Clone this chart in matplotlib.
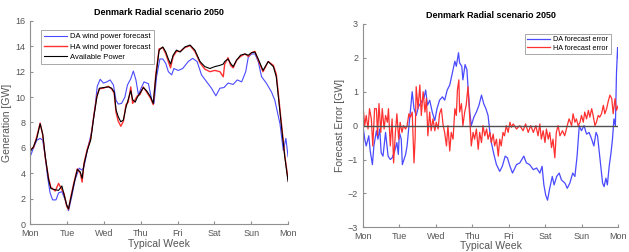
import numpy as np
import matplotlib
matplotlib.use("Agg")
import matplotlib.pyplot as plt

# Datos (x en dias desde el lunes)
dias = ["Mon", "Tue", "Wed", "Thu", "Fri", "Sat", "Sun", "Mon"]

x_disp = [0, 0.09, 0.18, 0.27, 0.34, 0.41, 0.5, 0.56, 0.68, 0.77, 0.86, 0.92, 0.99, 1.04,
          1.1, 1.19, 1.28, 1.36, 1.41, 1.46, 1.55, 1.64, 1.73, 1.81, 1.88, 1.99, 2.12, 2.21,
          2.28, 2.33, 2.39, 2.46, 2.53, 2.6, 2.66, 2.73, 2.78, 2.85, 2.91, 2.98, 3.07, 3.16,
          3.27, 3.34, 3.41, 3.5, 3.6, 3.68, 3.75, 3.81, 3.88, 3.97, 4.07, 4.2, 4.34, 4.47,
          4.61, 4.74, 4.88, 5.01, 5.15, 5.24, 5.28, 5.37, 5.44, 5.51, 5.6, 5.71, 5.83, 5.92,
          6.01, 6.1, 6.19, 6.32, 6.46, 6.6, 6.68, 6.82, 6.91, 7.0]
disponible = [5.7, 6.1, 6.75, 7.9, 7.1, 5.3, 3.5, 2.8, 2.7, 2.65, 3.0, 2.3, 1.5, 1.2,
              2.0, 3.2, 4.3, 4.1, 3.6, 4.7, 5.8, 6.6, 8.5, 10.0, 10.7, 10.75, 10.8, 10.7,
              10.4, 9.0, 8.45, 8.05, 8.2, 9.2, 9.8, 10.5, 9.8, 9.6, 10.0, 10.3, 10.75, 10.5,
              10.0, 9.5, 11.6, 13.7, 13.95, 13.55, 13.0, 12.6, 13.3, 13.7, 13.55, 13.95, 14.1, 13.7,
              12.8, 12.4, 12.25, 12.4, 12.5, 12.6, 12.8, 13.0, 12.65, 12.4, 12.9, 13.3, 13.4, 13.3,
              13.5, 13.55, 13.0, 12.1, 12.8, 12.4, 11.6, 7.7, 5.3, 3.35]
ha = [5.9, 6.0, 6.9, 7.95, 7.0, 5.2, 3.6, 2.9, 2.6, 3.2, 2.7, 2.4, 1.4, 1.15,
      2.1, 3.3, 4.35, 4.0, 3.3, 4.8, 5.9, 6.7, 8.6, 10.1, 10.65, 10.7, 10.85, 10.65,
      10.3, 8.8, 8.1, 7.7, 8.1, 9.4, 9.6, 10.8, 9.5, 9.8, 10.1, 10.2, 10.8, 10.4,
      9.9, 9.4, 11.8, 13.8, 13.9, 13.4, 12.8, 12.3, 13.2, 13.6, 13.6, 13.9, 14.05, 13.6,
      12.7, 12.2, 12.0, 12.1, 12.0, 11.6, 12.6, 13.1, 12.5, 12.3, 12.9, 13.2, 13.4, 13.2,
      13.5, 13.6, 12.9, 12.0, 12.8, 12.5, 11.8, 7.9, 5.4, 3.5]

x_da = [0, 0.09, 0.18, 0.27, 0.34, 0.41, 0.47, 0.54, 0.61, 0.7, 0.77, 0.86, 0.95, 1.04,
        1.13, 1.22, 1.33, 1.4, 1.46, 1.55, 1.67, 1.76, 1.82, 1.9, 1.99, 2.08, 2.17, 2.26,
        2.33, 2.39, 2.48, 2.57, 2.64, 2.73, 2.8, 2.87, 2.94, 3.01, 3.09, 3.21, 3.3, 3.36,
        3.43, 3.52, 3.6, 3.68, 3.75, 3.84, 3.9, 4.02, 4.14, 4.29, 4.41, 4.53, 4.65, 4.79,
        4.92, 5.04, 5.15, 5.26, 5.37, 5.51, 5.62, 5.74, 5.85, 5.92, 6.01, 6.1, 6.19, 6.28,
        6.41, 6.55, 6.64, 6.78, 6.87, 6.94, 7.0]
da = [5.3, 6.0, 6.6, 6.75, 6.6, 5.3, 3.75, 2.45, 1.9, 1.9, 2.45, 2.55, 1.9, 1.05,
      2.2, 3.5, 4.4, 4.25, 4.5, 5.8, 7.3, 9.2, 10.85, 11.4, 11.1, 11.2, 11.35, 10.95,
      9.75, 9.45, 9.5, 10.0, 10.95, 11.45, 12.05, 11.35, 10.15, 10.7, 11.2, 11.05, 9.75, 9.5,
      11.6, 13.0, 13.0, 12.65, 12.0, 11.75, 12.25, 12.1, 12.25, 12.8, 13.05, 12.8, 11.75, 11.2,
      10.7, 10.1, 10.7, 10.75, 11.1, 11.0, 11.35, 11.2, 12.0, 13.15, 13.4, 13.4, 12.8, 11.6,
      11.1, 10.4, 9.75, 7.9, 5.8, 6.75, 5.3]

x_err_da = [0, 0.05, 0.09, 0.16, 0.2, 0.26, 0.3, 0.37, 0.41, 0.46, 0.5, 0.55, 0.62, 0.69,
            0.75, 0.8, 0.87, 0.93, 0.97, 1.0, 1.05, 1.08, 1.17, 1.21, 1.28, 1.35, 1.4, 1.46,
            1.52, 1.6, 1.67, 1.72, 1.77, 1.83, 1.9, 1.97, 2.03, 2.1, 2.18, 2.24, 2.31, 2.38,
            2.45, 2.52, 2.56, 2.62, 2.65, 2.71, 2.74, 2.8, 2.85, 2.88, 2.93, 2.97, 3.04, 3.11,
            3.18, 3.25, 3.31, 3.37, 3.43, 3.48, 3.52, 3.59, 3.66, 3.75, 3.82, 3.9, 3.96, 4.03,
            4.1, 4.21, 4.3, 4.41, 4.48, 4.57, 4.67, 4.76, 4.85, 4.91, 4.96, 5.01, 5.06, 5.12,
            5.19, 5.24, 5.31, 5.38, 5.44, 5.54, 5.6, 5.67, 5.75, 5.81, 5.87, 5.93, 5.99, 6.06,
            6.13, 6.2, 6.27, 6.33, 6.39, 6.43, 6.5, 6.57, 6.61, 6.66, 6.7, 6.75, 6.8, 6.84,
            6.88, 6.92, 6.95, 6.98, 7.0]
err_da = [0, -0.4, -0.6, -0.3, -0.75, -1.15, -0.6, -0.15, -0.4, -0.1, -0.8, -0.9, -0.2, -0.9,
          -1.0, -0.95, -0.75, -0.5, -0.85, -0.2, -0.4, -1.15, -0.85, -0.6, 0.2, 1.0, 0.5, 0.3,
          0.55, 0.7, 0.8, 1.05, 0.6, 0.75, 0.4, 0.15, 0.5, 0.75, 0.85, 0.75, 1.05, 1.2,
          1.55, 1.9, 1.75, 2.15, 1.85, 1.75, 1.35, 1.8, 1.65, 1.15, 0.4, 0.0, 0.25, 0.4,
          0.6, 0.9, 0.65, 0.5, 0.3, -0.2, -0.5, -0.85, -1.15, -1.35, -1.2, -0.9, -0.95, -1.2,
          -1.4, -1.15, -1.1, -0.9, -1.1, -1.15, -1.3, -1.25, -1.4, -1.2, -1.75, -2.05, -2.2, -1.85,
          -1.5, -1.75, -1.5, -1.4, -1.6, -1.7, -1.85, -1.7, -1.4, -1.5, -0.9, 0.0, -0.15, 0.0,
          -0.25, -0.2, -0.4, -0.6, -0.2, -0.3, -1.0, -1.7, -1.8, -1.55, -1.75, -1.2, -0.8, -0.4,
          0.2, 0.0, 1.55, 2.3, 2.0]

x_err_ha = [0, 0.05, 0.09, 0.14, 0.18, 0.23, 0.27, 0.32, 0.37, 0.4, 0.44, 0.49, 0.53, 0.58,
            0.62, 0.67, 0.7, 0.75, 0.8, 0.84, 0.89, 0.93, 0.98, 1.02, 1.07, 1.11, 1.17, 1.21,
            1.26, 1.3, 1.35, 1.4, 1.43, 1.46, 1.51, 1.56, 1.6, 1.65, 1.7, 1.74, 1.78, 1.83,
            1.87, 1.92, 1.97, 2.01, 2.06, 2.1, 2.15, 2.2, 2.24, 2.29, 2.33, 2.38, 2.42, 2.47,
            2.52, 2.56, 2.59, 2.63, 2.65, 2.7, 2.74, 2.79, 2.83, 2.88, 2.93, 2.97, 3.02, 3.06,
            3.11, 3.16, 3.2, 3.25, 3.29, 3.34, 3.39, 3.43, 3.48, 3.52, 3.57, 3.61, 3.66, 3.71,
            3.75, 3.79, 3.84, 3.88, 3.93, 3.98, 4.03, 4.07, 4.12, 4.21, 4.3, 4.39, 4.46, 4.53,
            4.6, 4.67, 4.74, 4.8, 4.85, 4.89, 4.94, 4.99, 5.03, 5.08, 5.12, 5.17, 5.21, 5.26,
            5.3, 5.35, 5.4, 5.47, 5.53, 5.6, 5.65, 5.72, 5.76, 5.81, 5.85, 5.9, 5.95, 5.99,
            6.04, 6.08, 6.13, 6.18, 6.22, 6.27, 6.31, 6.36, 6.4, 6.45, 6.49, 6.54, 6.59, 6.63,
            6.68, 6.72, 6.77, 6.82, 6.86, 6.91, 6.95, 7.0]
err_ha = [0.6, 0.0, 0.3, -0.1, 0.5, 0.2, -0.6, 0.5, 0.5, -0.3, 0.65, -0.2, 0.5, -0.1,
          0.3, 0.1, 0.5, -0.6, 0.2, -1.1, -0.2, 0.35, -0.4, 0.1, -0.2, 0.0, -0.1, 0.0,
          0.35, 0.25, 0.4, -1.1, -0.4, 1.15, 0.5, 1.2, 0.3, 1.0, 0.4, 0.8, -0.3, 0.4,
          -0.15, 0.2, -0.15, 0.1, -0.1, 0.35, 0.5, 0.0, -0.2, -0.6, 0.0, -0.75, -0.2, -0.4,
          0.5, 0.3, 1.05, 1.35, 0.4, 0.65, 0.0, 0.4, 0.6, 1.15, 0.2, -0.6, -0.2, -0.4,
          -0.1, -0.7, -0.2, -0.5, 0.0, -0.3, -0.1, -0.4, -0.2, -0.5, -0.25, -0.6, -0.4, -0.9,
          -0.4, -0.6, -0.2, -0.3, 0.0, -0.2, 0.1, -0.05, 0.05, -0.1, 0.0, -0.15, 0.05, -0.2,
          0.0, -0.2, 0.0, -0.3, 0.05, -0.4, -0.15, -0.5, -0.1, -0.4, -0.2, -0.65, -0.4, -0.95,
          -0.2, 0.0, -0.3, -0.15, -0.3, 0.0, 0.2, 0.0, 0.35, 0.1, 0.2, 0.0, 0.1, 0.3,
          0.1, 0.4, 0.2, 0.45, 0.25, 0.5, 0.3, 0.0, 0.1, 0.3, 0.25, 0.35, 0.6, 0.35,
          0.5, 0.7, 0.9, 0.8, 0.35, 0.8, 0.45, 0.6]

gris = '#555555'
azul = '#4a4aff'
rojo = '#ff3030'

plt.rcParams['font.family'] = ['Liberation Sans', 'DejaVu Sans']
fig = plt.figure(figsize=(6.29, 2.52), dpi=100)

def estilo(ax):
    for lado in ['top', 'right']:
        ax.spines[lado].set_visible(False)
    for lado in ['left', 'bottom']:
        ax.spines[lado].set_color('#909090')
    ax.tick_params(direction='in', length=2.5, colors='#909090', labelcolor=gris, labelsize=6.5)
    ax.set_xlim(0, 7)
    ax.set_xticks(range(8))
    ax.set_xticklabels(dias)
    ax.set_xlabel('Typical Week', fontsize=7.5, color=gris, labelpad=1)

# Grafico izquierdo: generacion
ax1 = fig.add_axes([0.048, 0.111, 0.41, 0.806])
ax1.plot(x_da, da, color=azul, lw=0.8, label='DA wind power forecast')
ax1.plot(x_disp, ha, color=rojo, lw=1.0, label='HA wind power forecast')
ax1.plot(x_disp, disponible, color='black', lw=0.8, label='Available Power')
estilo(ax1)
ax1.set_ylim(0, 16)
ax1.set_yticks(range(0, 17, 2))
ax1.set_ylabel('Generation [GW]', fontsize=7.5, color=gris, labelpad=2)
ax1.set_title('Denmark Radial scenario 2050', fontsize=6.5, fontweight='bold', pad=4)
leg1 = ax1.legend(loc='upper left', bbox_to_anchor=(0.027, 0.975), fontsize=5.5, handlelength=3.0,
                  fancybox=False, borderpad=0.4, labelspacing=0.4, handletextpad=0.4)
leg1.get_frame().set_edgecolor('#808080')
leg1.get_frame().set_linewidth(0.6)

# Grafico derecho: error de pronostico
ax2 = fig.add_axes([0.577, 0.098, 0.406, 0.807])
ax2.plot(x_err_da, err_da, color=azul, lw=0.9, label='DA forecast error')
ax2.plot(x_err_ha, err_ha, color=rojo, lw=0.9, label='HA forecast error')
ax2.axhline(0, color='#505050', lw=1.0)
estilo(ax2)
ax2.set_ylim(-3, 3)
ax2.set_yticks(range(-3, 4))
ax2.xaxis.labelpad = 0
ax2.set_ylabel('Forecast Error [GW]', fontsize=7.5, color=gris, labelpad=2)
ax2.set_title('Denmark Radial scenario 2050', fontsize=6.5, fontweight='bold', pad=4)
leg2 = ax2.legend(loc='upper right', bbox_to_anchor=(0.985, 0.97), fontsize=5.2, handlelength=3.2,
                  fancybox=False, borderpad=0.35, labelspacing=0.2, handletextpad=0.4)
leg2.get_frame().set_edgecolor('#808080')
leg2.get_frame().set_linewidth(0.6)

fig.savefig('out.png', dpi=100)
